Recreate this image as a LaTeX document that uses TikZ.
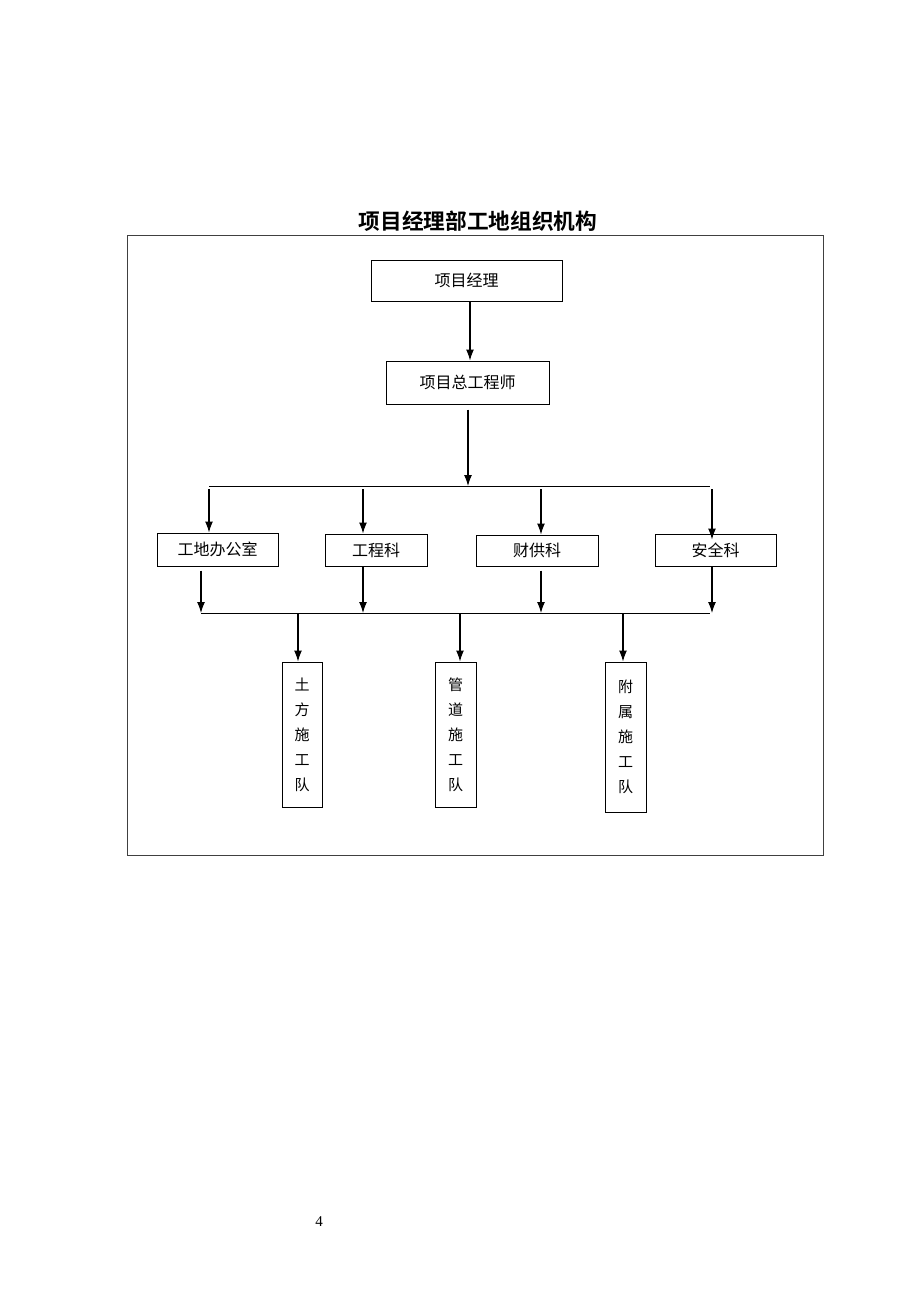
\documentclass[tikz,border=0pt]{standalone}
\usepackage{fontspec}
\setmainfont{Liberation Serif}
\newfontfamily\cjk{Noto Sans CJK SC}
\newfontfamily\cjkbold{Noto Sans CJK SC Bold}
\usetikzlibrary{arrows.meta}
\begin{document}
\begin{tikzpicture}[x=1pt,y=-1pt,
  box/.style={draw,line width=1pt,inner sep=0pt,font=\cjk\fontsize{16}{25}\selectfont,align=center},
  vbox/.style={box,font=\cjk\fontsize{15}{25}\selectfont},
  arr/.style={line width=1.1pt,-{Latex[length=11pt,width=8pt]}},
  bus/.style={line width=1pt}]
\useasboundingbox (0,0) rectangle (920,1302);
\node[font=\cjkbold\fontsize{21.7}{22}\selectfont] (title) at (478,221) {项目经理部工地组织机构};
\draw[line width=0.8pt,black!75] (127,235) rectangle (823,855);
\node[box,minimum width=191pt,minimum height=41pt] (pm) at (466.5,280.5) {项目经理};
\node[box,minimum width=163pt,minimum height=43pt] (ce) at (467.5,382.5) {项目总工程师};
\node[box,minimum width=121pt,minimum height=33pt] (office) at (217.5,549.5) {工地办公室};
\node[box,minimum width=102pt,minimum height=32pt] (eng) at (376,550) {工程科};
\node[box,minimum width=122pt,minimum height=31pt] (fin) at (537,550.5) {财供科};
\node[box,minimum width=121pt,minimum height=32pt] (safe) at (715.5,550) {安全科};
\node[vbox,minimum width=40pt,minimum height=145pt] (t1) at (302,734.5) {土\\方\\施\\工\\队};
\node[vbox,minimum width=41pt,minimum height=145pt] (t2) at (455.5,734.5) {管\\道\\施\\工\\队};
\node[vbox,minimum width=41pt,minimum height=150pt] (t3) at (625.5,737) {附\\属\\施\\工\\队};
\node[font=\fontsize{15}{15}\selectfont] (pg) at (319,1222) {4};
% top arrows
\draw[arr] (pm.south -| 470,0) -- (ce.north -| 470,0);
\coordinate (b1) at (468,486);
\coordinate (b1L) at (209,486);
\coordinate (b1R) at (710,486);
\draw[arr,shorten <=5pt] (ce.south -| b1) -- (b1);
\draw[bus] (b1L) -- (b1R);
\coordinate (a1) at (209,489);
\coordinate (a2) at (363,489);
\coordinate (a3) at (541,489);
\coordinate (a4) at (712,489);
\draw[arr] (a1) -- (a1 |- office.north);
\draw[arr] (a2) -- (a2 |- eng.north);
\draw[arr] (a3) -- (a3 |- fin.north);
\draw[arr] (a4) -- ([yshift=-6pt]a4 |- safe.north);
% lower bus
\coordinate (b2L) at (201,613);
\coordinate (b2R) at (710,613);
\draw[bus] (b2L) -- (b2R);
\draw[arr,shorten <=4pt] (office.south -| b2L) -- (b2L);
\draw[arr] (eng.south -| 363,0) -- (363,613);
\draw[arr,shorten <=4pt] (fin.south -| 541,0) -- (541,613);
\draw[arr] (safe.south -| 712,0) -- (712,613);
\coordinate (d1) at (298,613);
\coordinate (d2) at (460,613);
\coordinate (d3) at (623,613);
\draw[arr] (d1) -- (d1 |- t1.north);
\draw[arr] (d2) -- (d2 |- t2.north);
\draw[arr] (d3) -- (d3 |- t3.north);
\end{tikzpicture}
\end{document}
